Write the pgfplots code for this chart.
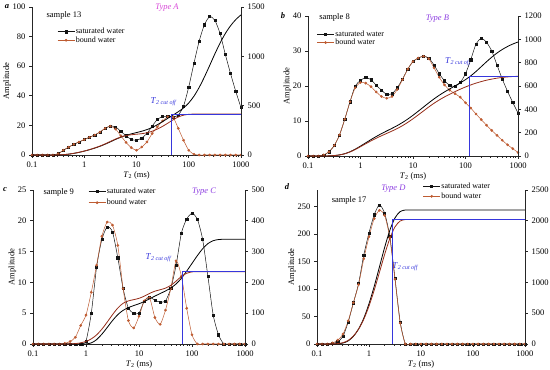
\documentclass[border=0pt]{standalone}
\usepackage{fontspec}
\setmainfont{Liberation Serif}
\usepackage{pgfplots}
\usepackage{pgfplotstable}
\pgfplotsset{compat=1.18}
\definecolor{satc}{RGB}{20,20,20}
\definecolor{bndc}{RGB}{190,92,50}
\definecolor{cumb}{RGB}{150,45,25}
\definecolor{cutc}{RGB}{55,55,220}
\definecolor{typeA}{RGB}{215,70,215}
\definecolor{typeB}{RGB}{140,60,225}

\pgfplotstableread{
x s b cs cb
0.1 0 0 0 0
0.1259 0 0 0 0
0.1585 0 0 0 0
0.1995 0 0 0 0
0.2512 0 0 0 0
0.3162 0.8 0.8 0.5 0.5
0.3981 3.2 3.2 3.1 3.2
0.5012 5.3 5.3 8.5 8.8
0.631 7.2 7.2 16.5 17.0
0.7943 8.8 8.8 26.7 27.5
1 10.4 10.4 39.0 40.2
1.259 12 12 53.3 54.9
1.585 13.5 13.5 69.6 71.7
1.995 15.5 15.5 88.1 90.8
2.512 18 18 109.5 112.9
3.162 19.5 19.5 133.5 137.6
3.981 19 17.5 158.1 161.9
5.012 16 13 180.5 182.0
6.31 13 8.5 199.0 196.2
7.943 10.5 5 214.0 205.1
10 10 3.2 227.1 210.5
12.59 11.5 5.4 240.8 216.1
15.85 14.5 8.8 257.5 225.5
19.95 19.5 14.5 279.2 240.8
25.12 24 19 307.0 262.9
31.62 26 23 338.9 290.5
39.81 26 25.8 372.2 322.7
50.12 25.5 25.5 405.1 356.5
63.1 27 18 438.6 385.1
79.43 33 10 476.9 403.5
100 46 3.2 527.4 412.2
125.9 62 0.5 596.4 414.7
158.5 77 0 685.3 415
199.5 88 0 790.7 415
251.2 93.5 0 906.7 415
316.2 91 0 1024.6 415
398.1 82 0 1135.1 415
501.2 68 0 1231.0 415
631 55 0 1309.6 415
794.3 43 0 1372.2 415
1000 32 0 1420 415
}\tabA

\pgfplotstableread{
x s b cs cb
0.1 0 0 0 0
0.1259 0 0 0 0
0.1585 0 0 0 0
0.1995 0.3 0.3 0.2 0.2
0.2512 1.2 1.2 1.1 1.1
0.3162 3 3 3.8 3.6
0.3981 6 6 9.5 9.0
0.5012 10.5 10.5 19.9 18.9
0.631 15.5 15.5 36.3 34.6
0.7943 20 19.5 58.7 55.6
1 21.6 21 85.0 79.9
1.259 22.4 20.8 112.8 105.1
1.585 21.8 19.8 140.7 129.5
1.995 20.2 18.3 167.2 152.4
2.512 18.8 17 191.8 173.6
3.162 17.6 16.5 214.8 193.7
3.981 17.8 17 237.2 213.8
5.012 19.5 19 260.7 235.5
6.31 22 21.8 287.0 260.0
7.943 24.8 24.8 316.5 288.0
10 27 27 349.2 319.1
12.59 28 28 384.0 352.2
15.85 28.5 28.5 419.6 386.1
19.95 28 27.8 455.3 420.0
25.12 26 25.2 489.4 451.8
31.62 23.5 22.5 520.7 480.5
39.81 21.5 20.3 549.1 506.2
50.12 20.2 18.8 575.4 529.7
63.1 19.9 17.8 600.8 551.7
79.43 21 16.8 626.6 572.5
100 23.5 15.2 654.7 591.7
125.9 27.5 13.7 686.9 609.1
158.5 32 12 724.4 624.6
199.5 33.6 10.4 765.9 638.0
251.2 32.5 8.8 807.6 649.6
316.2 30 7.3 847.1 659.2
398.1 26 5.9 882.5 667.2
501.2 22 4.5 912.8 673.4
631 18.5 3.2 938.4 678.1
794.3 15.3 2.1 959.7 681.2
1000 12.3 1 977.1 683.1
}\tabB

\pgfplotstableread{
x s b cs cb
0.1 0 0 0 0
0.1259 0 0 0 0
0.1585 0 0 0 0
0.1995 0 0 0 0
0.2512 0 0 0 0
0.3162 0 0 0 0
0.3981 0 0.1 0 0.1
0.5012 0 0.4 0 0.4
0.631 0 1.1 0 1.3
0.7943 0 3 0 3.8
1 0.5 4.7 0.3 8.5
1.259 5 8.4 3.6 16.6
1.585 12.5 12.8 14.2 29.6
1.995 17 17.5 31.9 48.2
2.512 19 19.8 53.6 71.1
3.162 18.2 19.3 76.0 95.1
3.981 14 16 95.4 116.8
5.012 9 9 109.2 132.2
6.31 5.8 3.8 118.2 140.0
7.943 5.0 2.6 124.7 144.0
10 5.0 4.5 130.7 148.3
12.59 7 7 137.9 155.4
15.85 7.6 7.5 146.7 164.3
19.95 7.1 4.3 155.5 171.5
25.12 6.8 3.2 163.9 176.2
31.62 7 5.5 172.2 181.5
39.81 9 9 181.9 190.4
50.12 12.8 13.5 195.0 204.2
63.1 18 11 213.5 219.3
79.43 20.3 5.8 236.6 229.6
100 21.2 1.5 261.6 234.1
125.9 20.3 0 286.6 235
158.5 17 0 309.1 235
199.5 11 0 325.9 235
251.2 4.7 0 335.4 235
316.2 1.5 0 339.1 235
398.1 0 0 340 235
501.2 0 0 340 235
631 0 0 340 235
794.3 0 0 340 235
1000 0 0 340 235
}\tabC

\pgfplotstableread{
x s b cs cb
0.1 0 0 0 0
0.1259 0 0 0 0
0.1585 0 0 0 0
0.1995 1 2 0.6 1.2
0.2512 4 7 3.9 6.7
0.3162 14 18 15.5 22.0
0.3981 40 42 50.2 58.6
0.5012 75 75 124.3 129.9
0.631 110 108 243.4 241.5
0.7943 162 155 418.6 401.9
1 202 195 653.0 615.4
1.259 235 228 934.4 873.4
1.585 253 243 1248.7 1160.6
1.995 238 234 1564.9 1451.6
2.512 196 193 1844.4 1712.0
3.162 119 118 2047.3 1901.7
3.981 40 38 2149.7 1996.8
5.012 0 0 2175 2020
6.31 0 0 2175 2020
7.943 0 0 2175 2020
10 0 0 2175 2020
12.59 0 0 2175 2020
15.85 0 0 2175 2020
19.95 0 0 2175 2020
25.12 0 0 2175 2020
31.62 0 0 2175 2020
39.81 0 0 2175 2020
50.12 0 0 2175 2020
63.1 0 0 2175 2020
79.43 0 0 2175 2020
100 0 0 2175 2020
125.9 0 0 2175 2020
158.5 0 0 2175 2020
199.5 0 0 2175 2020
251.2 0 0 2175 2020
316.2 0 0 2175 2020
398.1 0 0 2175 2020
501.2 0 0 2175 2020
631 0 0 2175 2020
794.3 0 0 2175 2020
1000 0 0 2175 2020
}\tabD

\pgfkeys{/pgf/number format/.cd, assume math mode=true, 1000 sep={}}
\pgfplotsset{
  pbase/.style={scale only axis, anchor=south west, ymin=0,
    axis line style={-, black!85, line width=0.6pt},
    tick style={black!85, line width=0.6pt},
    tick align=outside, major tick length=3pt, minor tick length=1.8pt,
    xtick={0.1,1,10,100,1000}, xticklabels={0.1,1,10,100,1000},
    minor xtick={0.2,0.3,0.4,0.5,0.6,0.7,0.8,0.9,2,3,4,5,6,7,8,9,20,30,40,50,60,70,80,90,200,300,400,500,600,700,800,900},
    ticklabel style={font=\fontsize{8.5}{9}\selectfont},
    clip=false},
  pleft/.style={pbase, axis y line*=left, axis x line*=bottom,
    xlabel={\textit{T}\textsubscript{2} (ms)}, ylabel={Amplitude},
    label style={font=\fontsize{8.5}{9}\selectfont},
    xlabel shift=-3pt, ylabel shift=-5pt,
    legend style={draw=none, fill=none, font=\fontsize{8}{9}\selectfont, inner sep=0pt, anchor=north west, nodes={inner sep=1pt}, row sep=-0.5pt},
    legend cell align=left},
  pright/.style={pbase, axis y line*=right, hide x axis},
}
\tikzset{
  psat/.style={satc, line width=0.5pt, smooth, tension=0.4, mark=square*, mark size=1.1pt, mark options={solid, fill=satc}},
  pbnd/.style={bndc, line width=0.5pt, smooth, tension=0.4, mark=*, mark size=1.1pt, mark options={solid, fill=bndc}},
  pcsat/.style={black, line width=0.8pt, smooth},
  pcbnd/.style={cumb, line width=0.8pt, smooth},
  pcut/.style={cutc, line width=0.8pt, sharp plot},
}
\newcommand{\lbl}{\fontsize{8.5}{9}\selectfont}
\newcommand{\cutlabel}{{\fontsize{9}{10}\selectfont\textit{T}\textsubscript{\textit{2 cut off}}}}

\begin{document}
\begin{tikzpicture}
\useasboundingbox (0pt,0pt) rectangle (550pt,370pt);

% ---------- panel a ----------
\begin{axis}[xmode=log, xmin=0.1, xmax=1000, pleft, at={(32pt,215pt)}, width=209pt, height=148pt, ymax=100,
  ytick={0,20,40,60,80,100}, legend style={at={(0.12,0.865)}}]
\addplot[psat] table[x=x,y=s]{\tabA}; \addlegendentry{saturated water}
\addplot[pbnd] table[x=x,y=b]{\tabA}; \addlegendentry{bound water}
\node[anchor=west, font=\lbl] at (rel axis cs:0.053,0.946) {sample 13};
\node[font=\lbl\itshape, text=typeA] at (rel axis cs:0.646,0.993) {Type A};
\node[anchor=west, text=cutc] at (axis cs:16,36) {\cutlabel};
\end{axis}
\begin{axis}[xmode=log, xmin=0.1, xmax=1000, pright, at={(32pt,215pt)}, width=209pt, height=148pt, ymax=1500,
  ytick={0,500,1000,1500}]
\addplot[pcsat, no markers] table[x=x,y=cs]{\tabA};
\addplot[pcbnd, no markers] table[x=x,y=cb]{\tabA};
\addplot[pcut, no markers] coordinates {(47.5,0) (47.5,415) (1000,415)};
\end{axis}

% ---------- panel b ----------
\begin{axis}[xmode=log, xmin=0.1, xmax=1000, pleft, at={(308pt,214pt)}, width=210pt, height=140pt, ymax=40,
  ytick={0,10,20,30,40}, legend style={at={(0.041,0.905)}}]
\addplot[psat] table[x=x,y=s]{\tabB}; \addlegendentry{saturated water}
\addplot[pbnd] table[x=x,y=b]{\tabB}; \addlegendentry{bound water}
\node[anchor=west, font=\lbl] at (rel axis cs:0.037,0.99) {sample 8};
\node[font=\lbl\itshape, text=typeB] at (rel axis cs:0.616,0.984) {Type B};
\node[anchor=west, text=cutc] at (axis cs:35,27) {\cutlabel};
\end{axis}
\begin{axis}[xmode=log, xmin=0.1, xmax=1000, pright, at={(308pt,214pt)}, width=210pt, height=140pt, ymax=1200,
  ytick={0,200,400,600,800,1000,1200}]
\addplot[pcsat, no markers] table[x=x,y=cs]{\tabB};
\addplot[pcbnd, no markers] table[x=x,y=cb]{\tabB};
\addplot[pcut, no markers] coordinates {(119,0) (119,683) (1000,683)};
\end{axis}

% ---------- panel c ----------
\begin{axis}[xmode=log, xmin=0.1, xmax=1000, pleft, at={(33pt,26pt)}, width=212pt, height=154pt, ymax=25,
  ytick={0,5,10,15,20,25}, legend style={at={(0.26,1.02)}, row sep=2pt}]
\addplot[psat] table[x=x,y=s]{\tabC}; \addlegendentry{saturated water}
\addplot[pbnd] table[x=x,y=b]{\tabC}; \addlegendentry{bound water}
\node[anchor=west, font=\lbl] at (rel axis cs:0.033,0.985) {sample 9};
\node[font=\lbl\itshape, text=typeB] at (rel axis cs:0.807,0.989) {Type C};
\node[anchor=west, text=cutc] at (axis cs:11.4,14) {\cutlabel};
\end{axis}
\begin{axis}[xmode=log, xmin=0.1, xmax=1000, pright, at={(33pt,26pt)}, width=212pt, height=154pt, ymax=500,
  ytick={0,100,200,300,400,500}]
\addplot[pcsat, no markers] table[x=x,y=cs]{\tabC};
\addplot[pcbnd, no markers] table[x=x,y=cb]{\tabC};
\addplot[pcut, no markers] coordinates {(64.6,0) (64.6,235) (1000,235)};
\end{axis}

% ---------- panel d ----------
\begin{axis}[xmode=log, xmin=0.1, xmax=1000, pleft, at={(317pt,26pt)}, width=208pt, height=154pt, ymax=280,
  ytick={0,50,100,150,200,250}, legend style={at={(0.508,1.055)}, row sep=1pt}]
\addplot[psat] table[x=x,y=s]{\tabD}; \addlegendentry{saturated water}
\addplot[pbnd] table[x=x,y=b]{\tabD}; \addlegendentry{bound water}
\node[anchor=west, font=\lbl] at (rel axis cs:0.054,0.935) {sample 17};
\node[font=\lbl\itshape, text=typeB] at (rel axis cs:0.367,1.006) {Type D};
\node[anchor=west, text=cutc] at (axis cs:2.4,140) {\cutlabel};
\end{axis}
\begin{axis}[xmode=log, xmin=0.1, xmax=1000, pright, at={(317pt,26pt)}, width=208pt, height=154pt, ymax=2500,
  ytick={0,500,1000,1500,2000,2500}]
\addplot[pcsat, no markers] table[x=x,y=cs]{\tabD};
\addplot[pcbnd, no markers] table[x=x,y=cb]{\tabD};
\addplot[pcut, no markers] coordinates {(2.82,0) (2.82,2020) (1000,2020)};
\end{axis}

% panel letters
\node[font=\lbl\bfseries\itshape] at (7pt,363pt) {a};
\node[font=\lbl\bfseries\itshape] at (283pt,354pt) {b};
\node[font=\lbl\bfseries\itshape] at (5pt,180pt) {c};
\node[font=\lbl\bfseries\itshape] at (287pt,183pt) {d};
\end{tikzpicture}
\end{document}
